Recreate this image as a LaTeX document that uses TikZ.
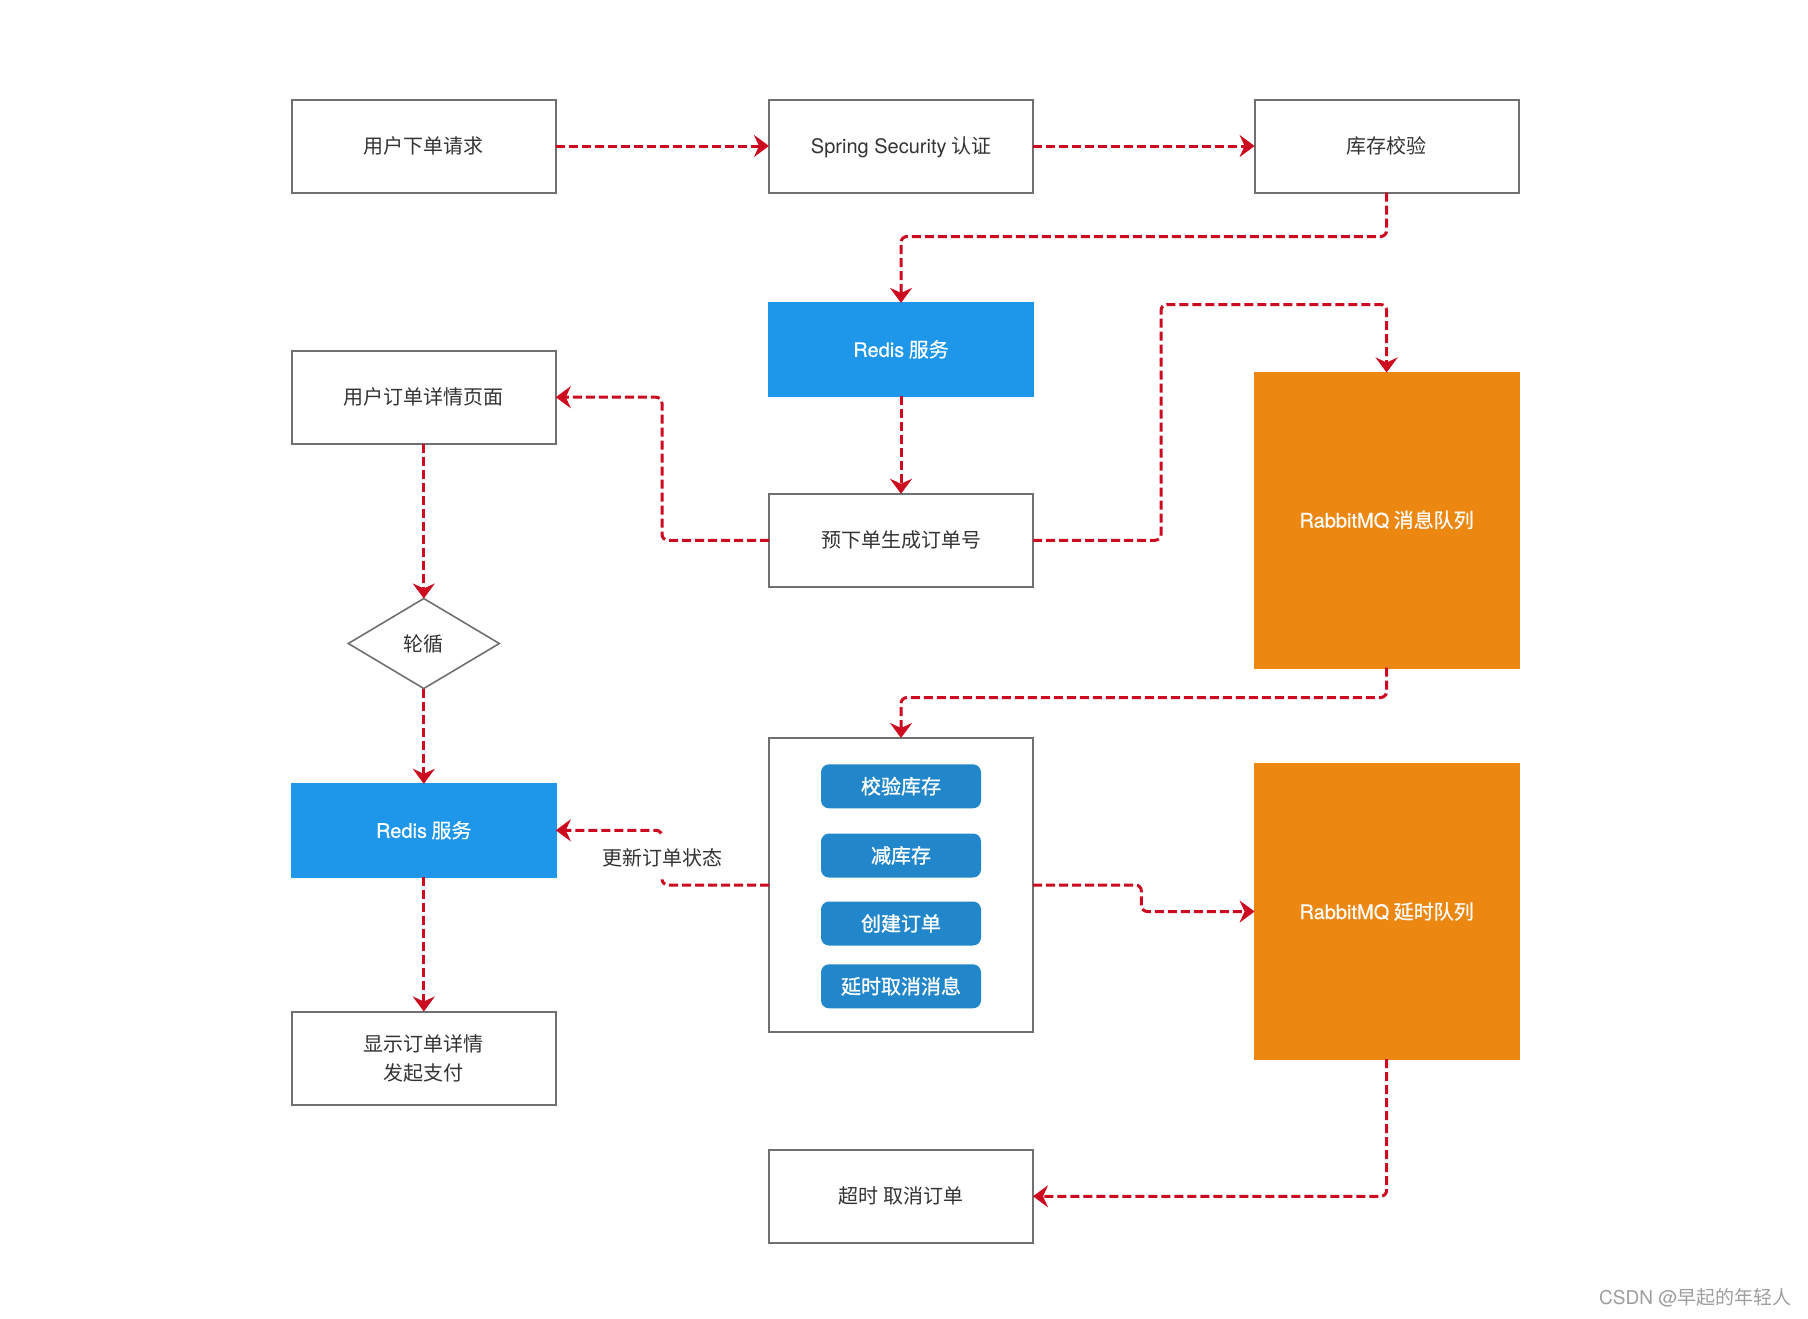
\documentclass[tikz,border=0pt]{standalone}
\usepackage{fontspec}
\setmainfont{Noto Sans CJK SC}
\newfontfamily\lat{TeX Gyre Heros}
\newfontfamily\latmed[FakeBold=0.5]{TeX Gyre Heros}
\newfontfamily\cjkmed[FakeBold=1.2]{Noto Sans CJK SC}
\newfontfamily\cjksemi[FakeBold=0.5]{Noto Sans CJK SC}
\usetikzlibrary{arrows.meta,shapes.geometric,calc}
\definecolor{flowred}{HTML}{CC0A20}
\definecolor{redisblue}{HTML}{1E96EA}
\definecolor{btnblue}{HTML}{2287CA}
\definecolor{mqorange}{HTML}{EC8712}
\definecolor{boxgray}{HTML}{707070}
\definecolor{txtgray}{HTML}{333333}
\begin{document}
\begin{tikzpicture}[x=0.5pt,y=-0.5pt,
  oneline/.style={text height=8.6pt,text depth=1.1pt},
  basebox/.style={draw=boxgray,line width=1pt,fill=white,minimum width=132pt,minimum height=46.5pt,
    inner sep=0pt,outer sep=0pt,font=\fontsize{10pt}{14.5pt}\selectfont,text=txtgray,align=center},
  box/.style={basebox,oneline},
  redisbox/.style={box,draw=redisblue,fill=redisblue,text=white,font=\fontsize{10pt}{14pt}\selectfont\cjksemi},
  mqbox/.style={box,draw=mqorange,fill=mqorange,text=white,minimum height=147.5pt,font=\fontsize{10pt}{14pt}\selectfont\cjksemi},
  btn/.style={fill=btnblue,rounded corners=4pt,minimum width=80pt,minimum height=22pt,inner sep=0pt,oneline,
    text=white,font=\fontsize{10pt}{14pt}\selectfont\cjkmed},
  decision/.style={diamond,draw=boxgray,line width=0.8pt,fill=white,minimum width=75.5pt,minimum height=45pt,
    inner sep=0pt,outer sep=0pt,oneline,text=txtgray,font=\fontsize{10pt}{14pt}\selectfont},
  flow/.style={draw=flowred,line width=1.5pt,dash pattern=on 4.5pt off 2pt,rounded corners=3pt,
    -{Stealth[length=7.5pt,width=11pt,inset=2.5pt]}},
  lbl/.style={fill=white,inner xsep=2pt,inner ysep=6pt,oneline,text=txtgray,font=\fontsize{10pt}{14pt}\selectfont}
]
\useasboundingbox (0,0) rectangle (1808,1318);
\fill[white] (0,0) rectangle (1808,1318);

% top row
\node[box] (req) at (423.8,146) {用户下单请求};
\node[box] (sec) at (901,146) {{\lat Spring Security} 认证};
\node[box] (stock) at (1386.6,146) {库存校验};

% middle
\node[redisbox] (redisA) at (901,349.4) {{\latmed Redis} 服务};
\node[box] (detail) at (423.8,397.2) {用户订单详情页面};
\node[box] (pre) at (901,540.3) {预下单生成订单号};
\node[mqbox] (mqA) at (1386.6,520) {{\latmed RabbitMQ} 消息队列};
\node[decision] (poll) at (423.8,643.5) {轮循};

% lower
\node[redisbox] (redisB) at (423.8,830.3) {{\latmed Redis} 服务};
\node[box,minimum height=147pt] (proc) at (901,885) {};
\node[btn] (b1) at (901,786.3) {校验库存};
\node[btn] (b2) at (901,855.5) {减库存};
\node[btn] (b3) at (901,923.5) {创建订单};
\node[btn] (b4) at (901,986.3) {延时取消消息};
\node[mqbox] (mqB) at (1386.6,911.5) {{\latmed RabbitMQ} 延时队列};
\node[basebox] (show) at (423.8,1058) {显示订单详情\\发起支付};
\node[box] (cancel) at (901,1196.3) {超时 取消订单};

% watermark
\node[anchor=east,text=black!38,inner sep=0pt,font=\fontsize{9.5pt}{11pt}\selectfont] (wm) at (1792,1298) {{\lat CSDN @}早起的年轻人};

% connectors
\draw[flow] (req.east) -- (sec.west);
\draw[flow] (sec.east) -- (stock.west);
\draw[flow] (stock.south) -- ++(0,44) -| (redisA.north);
\draw[flow] (redisA.south) -- (pre.north);
\draw[flow] (pre.west) -- ++(-107,0) |- (detail.east);
\draw[flow] (pre.east) -- ++(128,0) |- ($(mqA.north)+(0,-68)$) -- (mqA.north);
\draw[flow] (detail.south) -- (poll.north);
\draw[flow] (poll.south) -- (redisB.north);
\draw[flow] (mqA.south) -- ++(0,30) -| (proc.north);
\draw[flow] (proc.west) -- ++(-107,0) |- node[lbl,pos=0.25] (upd) {更新订单状态} (redisB.east);
\draw[flow] (proc.east) -- ++(108.4,0) |- (mqB.west);
\draw[flow] (mqB.south) |- (cancel.east);
\draw[flow] (redisB.south) -- (show.north);
\end{tikzpicture}
\end{document}
